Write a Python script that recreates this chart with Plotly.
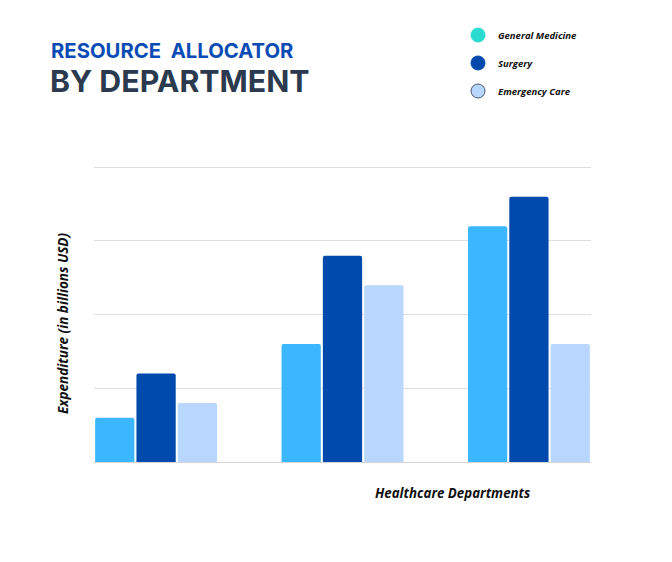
import plotly.graph_objects as go

categories = ["Group A", "Group B", "Group C"]
series_names = ["General Medicine", "Surgery", "Emergency Care"]
general_medicine = [30, 80, 160]
surgery = [60, 140, 180]
emergency_care = [40, 120, 80]
series_values = [general_medicine, surgery, emergency_care]

bar_colors = ["#3BB7FF", "#004AAD", "#B9D6FE"]
legend_colors = ["#2ADCD0", "#004AAD", "#B9D6FE"]
legend_lines = ["#2ADCD0", "#004AAD", "#4A5568"]

W, H = 672, 562
OFF = 8  # page offset of the figure in the screenshot
L, R, T, B = 94 - OFF, W - 591 + OFF, 165 - OFF, H - 462 + OFF
pw, ph = W - L - R, H - T - B

def px(x):
    return (x - OFF - L) / pw

def py(y):
    return (H - B - (y - OFF)) / ph

fig = go.Figure()
for name, vals, c in zip(series_names, series_values, bar_colors):
    fig.add_trace(go.Bar(x=categories, y=vals, name=name, marker=dict(color=c, cornerradius=2, line=dict(width=0)),
                         showlegend=False))
for i, (name, c, lc) in enumerate(zip(series_names, legend_colors, legend_lines)):
    fig.add_trace(go.Scatter(x=[None], y=[None], mode="markers", name=name, legendgroup=name,
                             marker=dict(symbol="circle", size=14, color=c, line=dict(color=lc, width=1))))

fig.update_layout(
    width=W, height=H,
    margin=dict(l=L, r=R, t=T, b=B, autoexpand=False),
    paper_bgcolor="white", plot_bgcolor="white",
    barmode="group", bargap=0.335, bargroupgap=0.05,
    xaxis=dict(range=[-0.333, 2.333], showticklabels=False, showgrid=False, zeroline=False,
               showline=False, ticks=""),
    yaxis=dict(range=[0, 201.5], tickvals=[0, 50, 100, 150, 200], showticklabels=False, showgrid=True,
               gridcolor="#DDDDDD", gridwidth=1, zeroline=True, zerolinecolor="#D5D5D5", zerolinewidth=1,
               showline=False, ticks=""),
    legend=dict(x=px(458), y=py(20.5), xanchor="left", yanchor="top", traceorder="grouped",
                tracegroupgap=9, font=dict(family="Open Sans", size=9.5, color="#111111", style="italic", weight="bold"),
                bgcolor="rgba(0,0,0,0)"),
    annotations=[
        dict(text="RESOURCE  ALLOCATOR", x=px(49), y=py(50), xref="paper", yref="paper", xanchor="left",
             yanchor="middle", showarrow=False,
             font=dict(family="Inter", size=20.3, color="#0A4BB5", weight="bold")),
        dict(text="BY DEPARTMENT", x=px(48), y=py(81), xref="paper", yref="paper", xanchor="left",
             yanchor="middle", showarrow=False,
             font=dict(family="Inter", size=30.3, color="#2B3A4E", weight="bold")),
        dict(text="Expenditure (in billions USD)", x=px(63), y=py(324), xref="paper", yref="paper",
             textangle=-90, showarrow=False, xanchor="center", yanchor="middle",
             font=dict(family="Open Sans", size=13.5, color="#111111", style="italic", weight="bold")),
        dict(text="Healthcare Departments", x=px(453), y=py(493), xref="paper", yref="paper",
             showarrow=False, xanchor="center", yanchor="middle",
             font=dict(family="Open Sans", size=13.3, color="#111111", style="italic", weight="bold")),
    ],
)

fig.write_html("out.html")
